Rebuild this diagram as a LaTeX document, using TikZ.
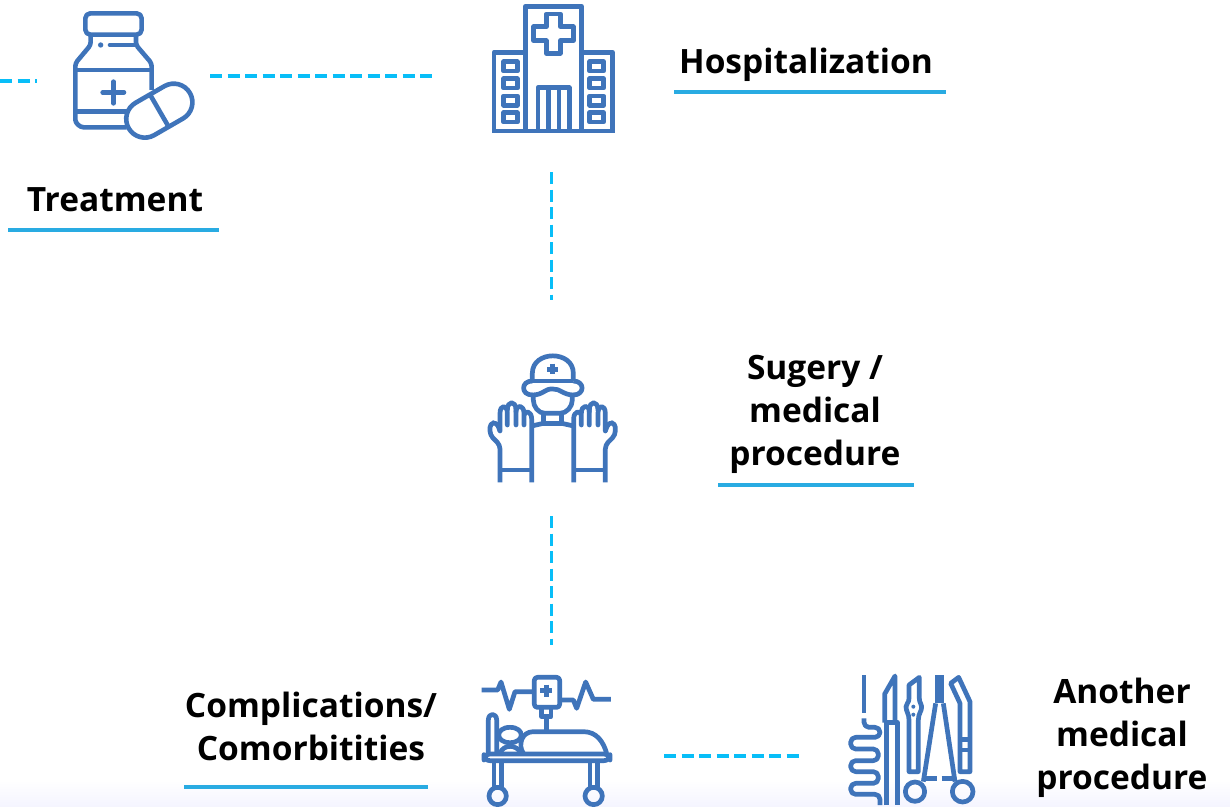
\documentclass[tikz,border=0pt]{standalone}
\usepackage{fontspec}
\setmainfont{Open Sans}
\usetikzlibrary{calc}
\definecolor{iconblue}{HTML}{3F74BA}
\definecolor{dashblue}{HTML}{08BEF8}
\definecolor{ruleblue}{HTML}{29ABE2}
\tikzset{
 icon/.style={draw=iconblue,line width=4.6pt,line join=round,line cap=butt},
 thin icon/.style={draw=iconblue,line width=4.7pt,line join=round},
 link/.style={draw=dashblue,line width=3.4pt,dash pattern=on 12pt off 5.5pt},
 rule/.style={draw=ruleblue,line width=3.4pt},
 lab/.style={font=\fontsize{33.5}{43}\selectfont\bfseries,align=center,text=black,inner sep=0pt},
 zoomed/.style={x=0.3333pt,y=-0.3333pt},
}
\newcommand{\glovepath}{
 \draw[thin icon,rounded corners=4pt] (60,412)--(60,300)--(30,270)--(30,235)--(50,232)--(60,258);
 \draw[thin icon,line cap=round] (60,258)--(60,205) .. controls (60,178) and (82,178) .. (82,205)--(82,240);
 \draw[thin icon,line cap=round] (82,195) .. controls (82,166) and (108,166) .. (108,195)--(108,240);
 \draw[thin icon,line cap=round] (108,200) .. controls (108,178) and (132,178) .. (132,205)--(132,240);
 \draw[thin icon] (132,210) .. controls (135,195) and (155,198) .. (155,222)--(155,412);
 \draw[thin icon] (60,375)--(155,375);
}
\begin{document}
\begin{tikzpicture}[x=1pt,y=-1pt]
\useasboundingbox (0,0) rectangle (1230,806);
\fill[white] (0,0) rectangle (1230,806);
\fill[top color=white,bottom color=black!5!blue!4] (0,780) rectangle (1230,806);

% ---- labels
\node[lab] (hosp) at (806,65) {\strut Hospitalization};
\node[lab] (treat) at (115,203) {\strut Treatment};
\node[lab] (surg) at (815,414) {\strut Sugery /\\\strut medical\\\strut procedure};
\node[lab] (comp) at (311,730.5) {\strut Complications/\\\strut Comorbitities};
\node[lab] (another) at (1122,738) {\strut Another\\\strut medical\\\strut procedure};

% ---- rules under the labels
\coordinate (r1a) at (674,92); \coordinate (r1b) at (946,92);
\coordinate (r2a) at (8,230); \coordinate (r2b) at (219,230);
\coordinate (r3a) at (718,485); \coordinate (r3b) at (914,485);
\coordinate (r4a) at (184,787); \coordinate (r4b) at (428,787);
\draw[rule] (r1a)--(r1b);
\draw[rule] (r2a)--(r2b);
\draw[rule] (r3a)--(r3b);
\draw[rule] (r4a)--(r4b);

% ---- dashed links
\coordinate (d0a) at (0,81); \coordinate (d0b) at (37,81);
\coordinate (d1a) at (210,76); \coordinate (d1b) at (437,76);
\coordinate (d2a) at (551.5,172); \coordinate (d2b) at (551.5,300);
\coordinate (d3a) at (551.5,516); \coordinate (d3b) at (551.5,645);
\coordinate (d4a) at (664,756); \coordinate (d4b) at (800,756);
\draw[link] (d0a)--(d0b);
\draw[link] (d1a)--(d1b);
\draw[link] (d2a)--(d2b);
\draw[link] (d3a)--(d3b);
\draw[link] (d4a)--(d4b);

% ---- medicine bottle
\begin{scope}[zoomed]
 \draw[icon,rounded corners=5pt] (256,40) rectangle (425,104);
 \draw[icon,rounded corners=3pt] (272,104)--(272,135)--(226,190)--(226,350) .. controls (226,370) and (240,382) .. (260,382)--(380,382);
 \draw[icon,rounded corners=3pt] (408,104)--(408,135)--(455,190)--(455,270);
 \draw[icon] (226,210)--(455,210);
 \draw[icon] (226,335)--(385,335);
 \draw[icon,line cap=round] (330,135)--(405,135);
 \fill[iconblue] (302,135) circle (8);
 \draw[icon,line cap=round] (340,245)--(340,310);
 \draw[icon,line cap=round] (308,277)--(372,277);
 \begin{scope}[shift={(478,332)},rotate=30]
  \draw[icon,fill=white] (-50,-56) arc[start angle=-90,end angle=-270,radius=56] --(50,56) arc[start angle=90,end angle=-90,radius=56]--cycle;
  \draw[icon] (0,-56)--(0,56);
 \end{scope}
\end{scope}

% ---- hospital
\begin{scope}[shift={(480,0)},zoomed]
 \draw[icon] (136,393)--(136,19)--(305,19)--(305,393);
 \draw[icon] (42,393)--(42,157)--(136,157);
 \draw[icon] (305,157)--(398,157)--(398,393);
 \draw[icon] (36,393)--(404,393);
 \draw[icon] (199,42)--(241,42)--(241,80)--(280,80)--(280,122)--(241,122)--(241,160)--(199,160)--(199,122)--(161,122)--(161,80)--(199,80)--cycle;
 \foreach \y in {182,233,285,335}{
  \draw[icon] (71,\y+3) rectangle (112,\y+31);
  \draw[icon] (329,\y+3) rectangle (371,\y+31);
 }
 \draw[icon] (174,393)--(174,263)--(268,263)--(268,393);
 \draw[icon] (206,263)--(206,393);
 \draw[icon] (237,263)--(237,393);
\end{scope}

% ---- surgeon
\begin{scope}[shift={(480,345)},zoomed]
 \draw[thin icon] (157,108)--(157,85) .. controls (157,15) and (280,15) .. (280,85)--(280,108);
 \draw[thin icon] (157,108)--(280,108);
 \draw[thin icon,line width=5pt] (202,72)--(234,72);
 \draw[thin icon,line width=5pt] (218,56)--(218,88);
 \draw[thin icon] (157,108) .. controls (122,108) and (122,150) .. (157,150);
 \draw[thin icon] (280,108) .. controls (315,108) and (315,150) .. (280,150);
 \draw[thin icon] (157,150) .. controls (190,150) and (195,130) .. (218,132) .. controls (240,130) and (250,150) .. (280,150);
 \draw[thin icon] (160,145)--(160,165) .. controls (160,185) and (175,205) .. (195,205)--(240,205) .. controls (260,205) and (277,185) .. (277,165)--(277,145);
 \draw[thin icon] (190,205)--(190,235)--(245,235)--(245,205);
 \draw[thin icon] (155,243)--(190,235);
 \draw[thin icon] (245,235)--(281,243);
 \glovepath
 \begin{scope}[shift={(436,0)},x=-0.3333pt]
  \glovepath
 \end{scope}
\end{scope}

% ---- patient bed
\begin{scope}[shift={(475,670)},zoomed]
 \draw[thin icon] (20,60)--(68,60)--(78,36)--(103,118)--(120,65)--(175,65);
 \draw[thin icon] (255,90)--(295,90)--(305,115)--(332,36)--(355,88)--(408,88);
 \draw[thin icon,rounded corners=3pt] (178,22) rectangle (254,112);
 \draw[thin icon,line width=5pt] (196,62)--(232,62);
 \draw[thin icon,line width=5pt] (214,44)--(214,80);
 \draw[thin icon] (200,112)--(200,140)--(228,140)--(228,112);
 \draw[thin icon] (214,140)--(214,185);
 \draw[thin icon,rounded corners=6pt] (27,252) rectangle (405,272);
 \draw[thin icon] (40,252)--(40,150) .. controls (40,128) and (65,128) .. (65,150)--(65,252);
 \draw[thin icon] (105,172) .. controls (60,172) and (60,218) .. (105,218) .. controls (150,218) and (150,172) .. (105,172);
 \draw[thin icon] (75,250) .. controls (85,222) and (125,222) .. (138,250);
 \draw[thin icon] (145,250) .. controls (128,225) and (140,185) .. (175,185)--(325,185) .. controls (365,185) and (385,215) .. (395,250);
 \draw[thin icon] (57,272)--(57,352);
 \draw[thin icon] (80,272)--(80,352);
 \draw[thin icon] (345,272)--(345,352);
 \draw[thin icon] (368,272)--(368,352);
 \draw[thin icon] (68,378) circle (26);
 \draw[thin icon] (356,378) circle (26);
\end{scope}

% ---- instruments
\begin{scope}[shift={(840,670)},zoomed]
 \draw[thin icon] (72,15)--(72,128);
 \draw[thin icon,rounded corners=5pt] (72,145)--(72,172)--(120,172)--(120,202)--(32,202)--(32,237)--(115,237)--(115,272)--(32,272)--(32,305)--(115,305)--(115,340)--(32,340)--(32,373)--(120,373)--(120,405);
 \draw[thin icon] (140,405)--(140,158)--(172,158)--(172,405);
 \draw[thin icon] (134,158)--(134,72)--(165,18)--(165,158);
 \draw[thin icon] (207,45)--(238,22)--(238,85) .. controls (238,100) and (245,100) .. (245,110) .. controls (245,125) and (235,130) .. (235,150)--(235,305)--(207,305)--(207,150) .. controls (207,130) and (198,125) .. (198,110) .. controls (198,100) and (207,100) .. (207,85)--cycle;
 \fill[iconblue] (220,110) circle (6);
 \fill[iconblue] (220,134) circle (6);
 \fill[iconblue] (284,15)--(313,15)--(313,100)--(284,100)--cycle;
 \draw[thin icon] (287,100)--(250,335);
 \draw[thin icon] (310,100)--(345,335);
 \draw[thin icon] (255,325)--(292,325);
 \draw[thin icon] (305,325)--(342,325);
 \draw[thin icon] (225,365) circle (29);
 \draw[thin icon] (368,365) circle (31);
 \draw[thin icon] (332,40)--(356,22)--(390,95)--(390,305)--(360,305)--(360,100)--cycle;
 \draw[thin icon] (365,208)--(385,208);
 \draw[thin icon] (365,240)--(385,240);
\end{scope}
\end{tikzpicture}
\end{document}
